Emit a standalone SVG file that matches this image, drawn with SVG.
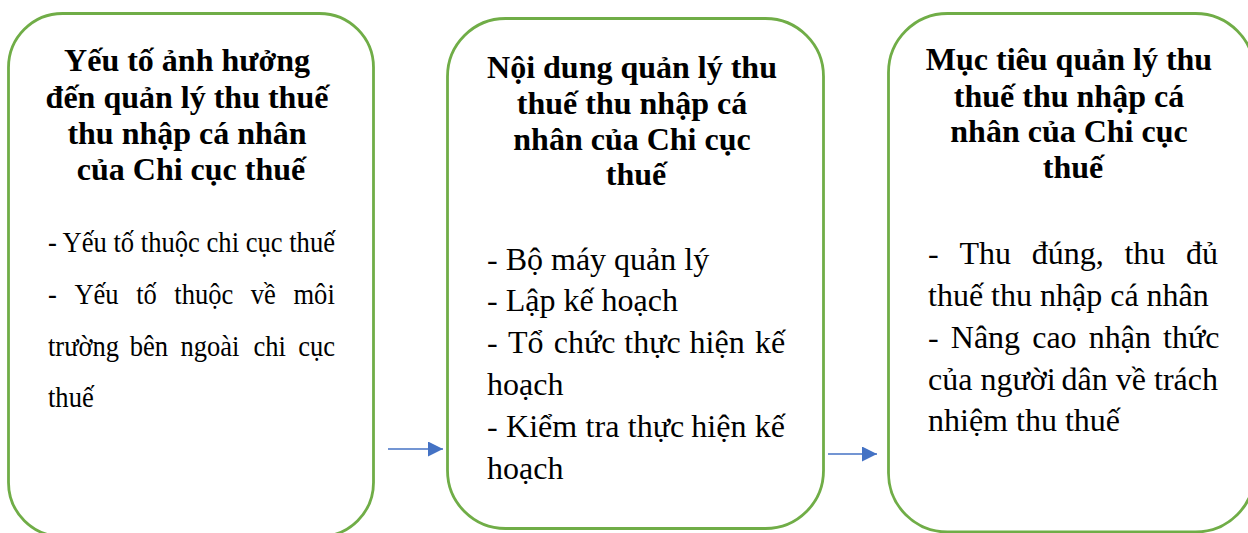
<svg xmlns="http://www.w3.org/2000/svg" width="1248" height="533" viewBox="0 0 1248 533">
  <defs>
    <marker id="arrowhead" markerUnits="userSpaceOnUse" markerWidth="15" markerHeight="15" refX="15" refY="7.5" orient="auto">
      <path d="M0,0 L15,7.5 L0,15 z" fill="#4472C4"/>
    </marker>
    <style>
      .box { fill: #FFFFFF; stroke: #70AD47; stroke-width: 2.8; }
      .title { font-family: "Liberation Serif", "Times New Roman", serif; font-weight: bold; font-size: 32px; fill: #000000; text-anchor: middle; }
      .body { font-family: "Liberation Serif", "Times New Roman", serif; font-size: 32px; fill: #000000; }
      .body-sm { font-family: "Liberation Serif", "Times New Roman", serif; font-size: 29px; fill: #000000; }
      .link { stroke: #4472C4; stroke-width: 1.6; fill: none; }
    </style>
  </defs>

  <rect width="1248" height="533" fill="#FFFFFF"/>

  <!-- Factors -->
  <g id="node-factors">
    <rect class="box" x="8.5" y="13.5" width="365" height="523" rx="54" ry="54"/>
    <text class="title">
      <tspan x="191" y="71">Yếu tố ảnh hưởng</tspan>
      <tspan x="191" y="108">đến quản lý thu thuế</tspan>
      <tspan x="191" y="144">thu nhập cá nhân</tspan>
      <tspan x="191" y="180">của Chi cục thuế</tspan>
    </text>
    <!-- narrow body text, justified word by word -->
    <g transform="translate(48 0) scale(0.915 1)">
      <text class="body-sm" x="0" y="252" textLength="313.7" lengthAdjust="spacingAndGlyphs">- Yếu tố thuộc chi cục thuế</text>
      <text class="body-sm" y="304"><tspan x="0">-</tspan><tspan x="28.9">Yếu</tspan><tspan x="96.4">tố</tspan><tspan x="138.1">thuộc</tspan><tspan x="221.7">về</tspan><tspan x="268.3">môi</tspan></text>
      <text class="body-sm" y="356"><tspan x="0">trường</tspan><tspan x="89.3">bên</tspan><tspan x="144.8">ngoài</tspan><tspan x="224.5">chi</tspan><tspan x="273.6">cục</tspan></text>
      <text class="body-sm" x="0" y="407">thuế</text>
    </g>
  </g>

  <!-- Content -->
  <g id="node-content">
    <rect class="box" x="447.5" y="18.5" width="376" height="510" rx="58" ry="58"/>
    <text class="title">
      <tspan x="636" y="78">Nội dung quản lý thu</tspan>
      <tspan x="636" y="114">thuế thu nhập cá</tspan>
      <tspan x="636" y="150">nhân của Chi cục</tspan>
      <tspan x="636" y="185">thuế</tspan>
    </text>
    <text class="body" x="487" y="269.5">- Bộ máy quản lý</text>
    <text class="body" x="487" y="311">- Lập kế hoạch</text>
    <text class="body" y="352.5"><tspan x="487">-</tspan><tspan x="507.9">Tổ</tspan><tspan x="553.7">chức</tspan><tspan x="624.3">thực</tspan><tspan x="689.6">hiện</tspan><tspan x="754.9">kế</tspan></text>
    <text class="body" x="487" y="395">hoạch</text>
    <text class="body" y="437"><tspan x="487">-</tspan><tspan x="506.1">Kiểm</tspan><tspan x="585.6">tra</tspan><tspan x="627.8">thực</tspan><tspan x="691.3">hiện</tspan><tspan x="754.8">kế</tspan></text>
    <text class="body" x="487" y="479">hoạch</text>
  </g>

  <!-- Objectives -->
  <g id="node-objectives">
    <rect class="box" x="888.5" y="13.5" width="366" height="518.5" rx="59" ry="59"/>
    <text class="title">
      <tspan x="1073" y="70">Mục tiêu quản lý thu</tspan>
      <tspan x="1073" y="107">thuế thu nhập cá</tspan>
      <tspan x="1073" y="142">nhân của Chi cục</tspan>
      <tspan x="1073" y="178">thuế</tspan>
    </text>
    <text class="body" y="264"><tspan x="928">-</tspan><tspan x="959.4">Thu</tspan><tspan x="1031.7">đúng,</tspan><tspan x="1124.4">thu</tspan><tspan x="1186">đủ</tspan></text>
    <text class="body" x="928" y="306">thuế thu nhập cá nhân</text>
    <text class="body" y="347.5"><tspan x="928">-</tspan><tspan x="950.8">Nâng</tspan><tspan x="1032.2">cao</tspan><tspan x="1088.7">nhận</tspan><tspan x="1163">thức</tspan></text>
    <text class="body" y="389.5"><tspan x="928">của</tspan><tspan x="980.5">người</tspan><tspan x="1061.5">dân</tspan><tspan x="1115.8">về</tspan><tspan x="1154">trách</tspan></text>
    <text class="body" x="928" y="431">nhiệm thu thuế</text>
  </g>

  <!-- Connectors -->
  <g id="connectors">
    <line class="link" x1="388" y1="449" x2="443" y2="449" marker-end="url(#arrowhead)"/>
    <line class="link" x1="828" y1="454" x2="877" y2="454" marker-end="url(#arrowhead)"/>
  </g>
</svg>
